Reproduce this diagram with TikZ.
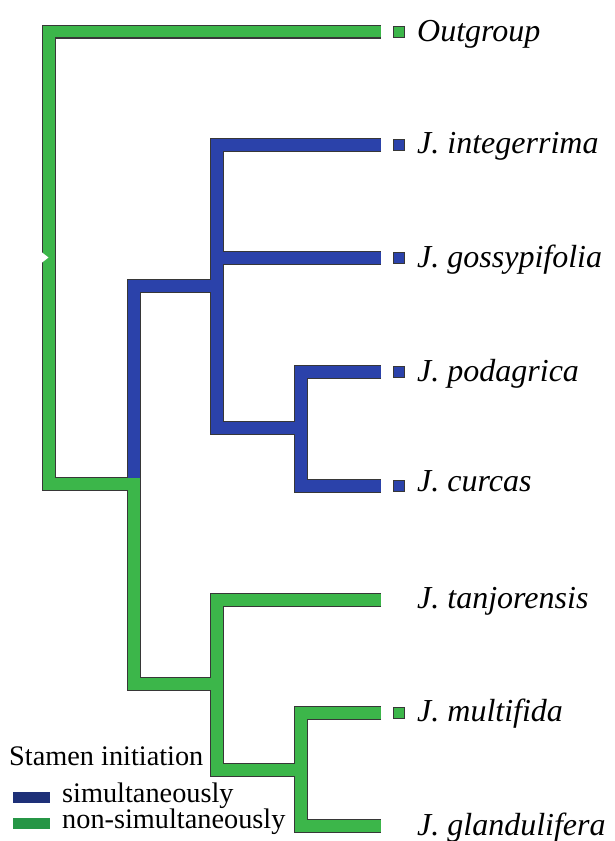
\documentclass[tikz,border=0pt]{standalone}
\usepackage{fontspec}
\setmainfont{Liberation Serif}
\newfontfamily\timesfont{Liberation Serif}
\definecolor{gfill}{RGB}{60,182,74}
\definecolor{bfill}{RGB}{43,66,170}
\definecolor{edgec}{RGB}{55,55,55}
\definecolor{legb}{RGB}{30,48,120}
\definecolor{legg}{RGB}{38,150,70}
\tikzset{
  outl/.style={line width=14pt, draw=edgec, line join=miter, line cap=butt},
  gbr/.style={line width=11.8pt, draw=gfill, line join=miter, line cap=butt},
  bbr/.style={line width=11.8pt, draw=bfill, line join=miter, line cap=butt},
  tipsq/.style={draw=edgec, line width=0.8pt, minimum size=11.5pt, inner sep=0pt},
  lab/.style={anchor=base west, inner sep=0pt, font=\timesfont\fontsize{32}{38}\selectfont\itshape},
  leg/.style={anchor=base west, inner sep=0pt, font=\timesfont\fontsize{28.3}{34}\selectfont},
}
\newcommand\treepaths[2]{%
  % green
  \draw[#1] (tOut) -| (rootB) -- (nA);
  \draw[#1] (nAg) |- (nG);
  \draw[#1] (tTan) -| (nGb) -- (nGG);
  \draw[#1] (tMul) -| (nGGb) -- (tGla);
  % blue
  \draw[#1,#2] (nB) -- (nAt) -- (nAg);
  \draw[#1,#2] (tInt) -| (nBb) -- (nBB);
  \draw[#1,#2] (nBg) -- (tGos);
  \draw[#1,#2] (tPod) -| (nBBb) -- (tCur);
}
\begin{document}
\begin{tikzpicture}[x=1pt,y=-1pt]
\useasboundingbox (0,0) rectangle (615,841);
% tips (line ends)
\coordinate (tOut) at (381,31.5);
\coordinate (tInt) at (381,145);
\coordinate (tGos) at (381,258);
\coordinate (tPod) at (381,372);
\coordinate (tCur) at (381,486);
\coordinate (tTan) at (381,600);
\coordinate (tMul) at (381,713);
\coordinate (tGla) at (381,826);
% internal nodes
\coordinate (rootB) at (49,484);
\coordinate (nA) at (134,484);
\coordinate (nAt) at (134,286);
\coordinate (nAg) at (134,478);
\coordinate (nB) at (217,286);
\coordinate (nBg) at (217,258);
\coordinate (nBb) at (217,428);
\coordinate (nBB) at (301,428);
\coordinate (nBBb) at (301,486);
\coordinate (nG) at (217,684);
\coordinate (nGb) at (217,770);
\coordinate (nGG) at (301,770);
\coordinate (nGGb) at (301,826);
% branches: outlines first, then fills
\treepaths{outl}{}
\treepaths{gbr}{bbr}
% small notch on the root
\fill[white] (41.5,252) -- (48.5,257.5) -- (41.5,263) -- cycle;
% tip squares
\node[tipsq, fill=gfill] (sOut) at (399,32) {};
\node[tipsq, fill=bfill] (sInt) at (399,145) {};
\node[tipsq, fill=bfill] (sGos) at (399,258) {};
\node[tipsq, fill=bfill] (sPod) at (399,372) {};
\node[tipsq, fill=bfill] (sCur) at (399,486) {};
\node[tipsq, fill=gfill] (sMul) at (399,713) {};
% labels
\node[lab] (lOut) at (417,41) {Outgroup};
\node[lab] (lInt) at (417,153) {J. integerrima};
\node[lab] (lGos) at (417,267) {J. gossypifolia};
\node[lab] (lPod) at (417,381) {J. podagrica};
\node[lab] (lCur) at (417,491) {J. curcas};
\node[lab] (lTan) at (417,608) {J. tanjorensis};
\node[lab] (lMul) at (417,721) {J. multifida};
\node[lab] (lGla) at (417,835) {J. glandulifera};
% legend
\node[leg] (legT) at (9,765) {Stamen initiation};
\fill[legb] (13,792) rectangle (50,803);
\fill[legg] (13,818) rectangle (50,829);
\node[leg] (legS) at (62,802) {simultaneously};
\node[leg] (legN) at (62,828) {non-simultaneously};
\end{tikzpicture}
\end{document}
